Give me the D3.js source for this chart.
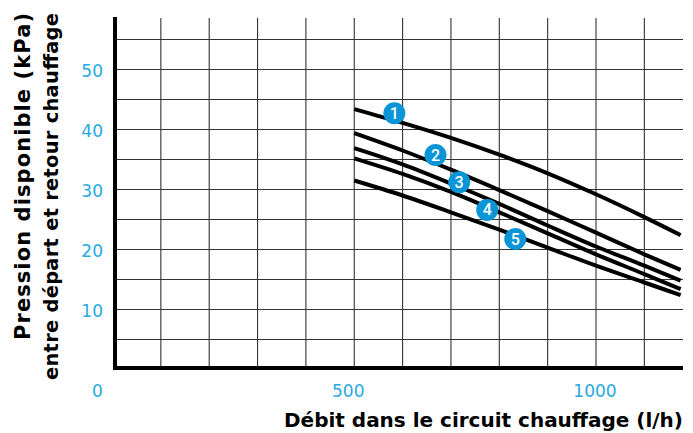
<!DOCTYPE html>
<html><head><meta charset="utf-8">
<script src="https://cdn.jsdelivr.net/npm/d3@7"></script>
<style>
html,body{margin:0;padding:0;background:#fff;}
svg{display:block;}
</style></head>
<body>
<svg id="chart" width="693" height="433"></svg>
<script>
// ---- data ----
const flows = [500, 600, 700, 800, 900, 1000, 1100, 1175];
const curve1 = [43.4, 41.1, 38.6, 35.8, 32.7, 29.2, 25.4, 22.4];
const curve2 = [39.4, 36.5, 33.3, 29.9, 26.4, 22.8, 19.2, 16.6];
const curve3 = [36.9, 34.2, 31.0, 27.6, 24.0, 20.5, 17.3, 14.8];
const curve4 = [35.2, 32.6, 29.6, 26.2, 22.7, 19.2, 15.9, 13.4];
const curve5 = [31.5, 29.0, 26.2, 23.3, 20.3, 17.3, 14.5, 12.4];
const curveNames = ["1", "2", "3", "4", "5"];
const badgeFlow = [583, 668, 717, 775, 833];
const badgePressure = [42.7, 35.75, 31.2, 26.6, 21.75];
const xTickLabels = [0, 500, 1000];
const yTickLabels = [10, 20, 30, 40, 50];
const xGrid = [100, 200, 300, 400, 500, 600, 700, 800, 900, 1000, 1100];
const yGrid = [5, 10, 15, 20, 25, 30, 35, 40, 45, 50, 55];
const xTitle = "Débit dans le circuit chauffage (l/h)";
const yTitle1 = "Pression disponible (kPa)";
const yTitle2 = "entre départ et retour chauffage";

// ---- scales ----
const x = d3.scaleLinear().domain([0, 1000]).range([112.5, 596]);
const y = d3.scaleLinear().domain([0, 50]).range([369.5, 69.5]);

const svg = d3.select("#chart");
const axisX = 115, axisY = 368, plotRight = 683, plotTop = 17;
const blue = "#27a9e1";
const titleFont = "DejaVu Sans";

// grid
svg.append("g").selectAll("line").data(xGrid).join("line")
  .attr("x1", d => x(d)).attr("x2", d => x(d))
  .attr("y1", plotTop + 1).attr("y2", axisY)
  .attr("stroke", "#333").attr("stroke-width", 1.1);
svg.append("g").selectAll("line").data(yGrid).join("line")
  .attr("x1", axisX).attr("x2", plotRight)
  .attr("y1", d => y(d)).attr("y2", d => y(d))
  .attr("stroke", "#333").attr("stroke-width", 1.1);

// axes
svg.append("line").attr("x1", axisX).attr("x2", axisX).attr("y1", plotTop).attr("y2", axisY + 2)
  .attr("stroke", "#000").attr("stroke-width", 4);
svg.append("line").attr("x1", axisX - 2).attr("x2", plotRight).attr("y1", axisY).attr("y2", axisY)
  .attr("stroke", "#000").attr("stroke-width", 4);

// tick labels
const nudge = {0: -15, 500: -6, 1000: -1};
svg.append("g").selectAll("text").data(xTickLabels).join("text")
  .attr("x", d => x(d) + nudge[d]).attr("y", 397)
  .attr("text-anchor", "middle")
  .attr("font-family", "DejaVu Sans").attr("font-size", 17).attr("fill", blue)
  .text(d => d);
svg.append("g").selectAll("text").data(yTickLabels).join("text")
  .attr("x", 103).attr("y", d => y(d) + 7.5)
  .attr("text-anchor", "end")
  .attr("font-family", "DejaVu Sans").attr("font-size", 17).attr("fill", blue)
  .text(d => d);

// curves
const series = [curve1, curve2, curve3, curve4, curve5];
const line = d3.line().x((d, i) => x(flows[i])).y(d => y(d)).curve(d3.curveMonotoneX);
svg.append("g").selectAll("path").data(series).join("path")
  .attr("d", d => line(d))
  .attr("fill", "none").attr("stroke", "#000").attr("stroke-width", 4);

// badges
const badges = svg.append("g").selectAll("g").data(curveNames).join("g")
  .attr("transform", (d, i) => `translate(${x(badgeFlow[i])},${y(badgePressure[i])})`);
badges.append("circle").attr("r", 11).attr("fill", "#0a96d6");
badges.append("text").attr("y", 5.5).attr("text-anchor", "middle")
  .attr("font-family", "Roboto").attr("font-weight", 500).attr("font-size", 16)
  .attr("fill", "#fff").text(d => d);

// titles
svg.append("text").attr("x", plotRight).attr("y", 427).attr("text-anchor", "end")
  .attr("font-family", titleFont).attr("font-weight", "bold").attr("font-size", 20)
  .attr("textLength", 399).attr("lengthAdjust", "spacing")
  .attr("fill", "#000").text(xTitle);
svg.append("text").attr("transform", "translate(30,13) rotate(-90)").attr("text-anchor", "end")
  .attr("font-family", titleFont).attr("font-weight", "bold").attr("font-size", 21)
  .attr("textLength", 327).attr("lengthAdjust", "spacing")
  .attr("fill", "#000").text(yTitle1);
svg.append("text").attr("transform", "translate(57.5,13) rotate(-90)").attr("text-anchor", "end")
  .attr("font-family", titleFont).attr("font-weight", "bold").attr("font-size", 19.5)
  .attr("textLength", 367).attr("lengthAdjust", "spacing")
  .attr("fill", "#000").text(yTitle2);
</script>
</body></html>
